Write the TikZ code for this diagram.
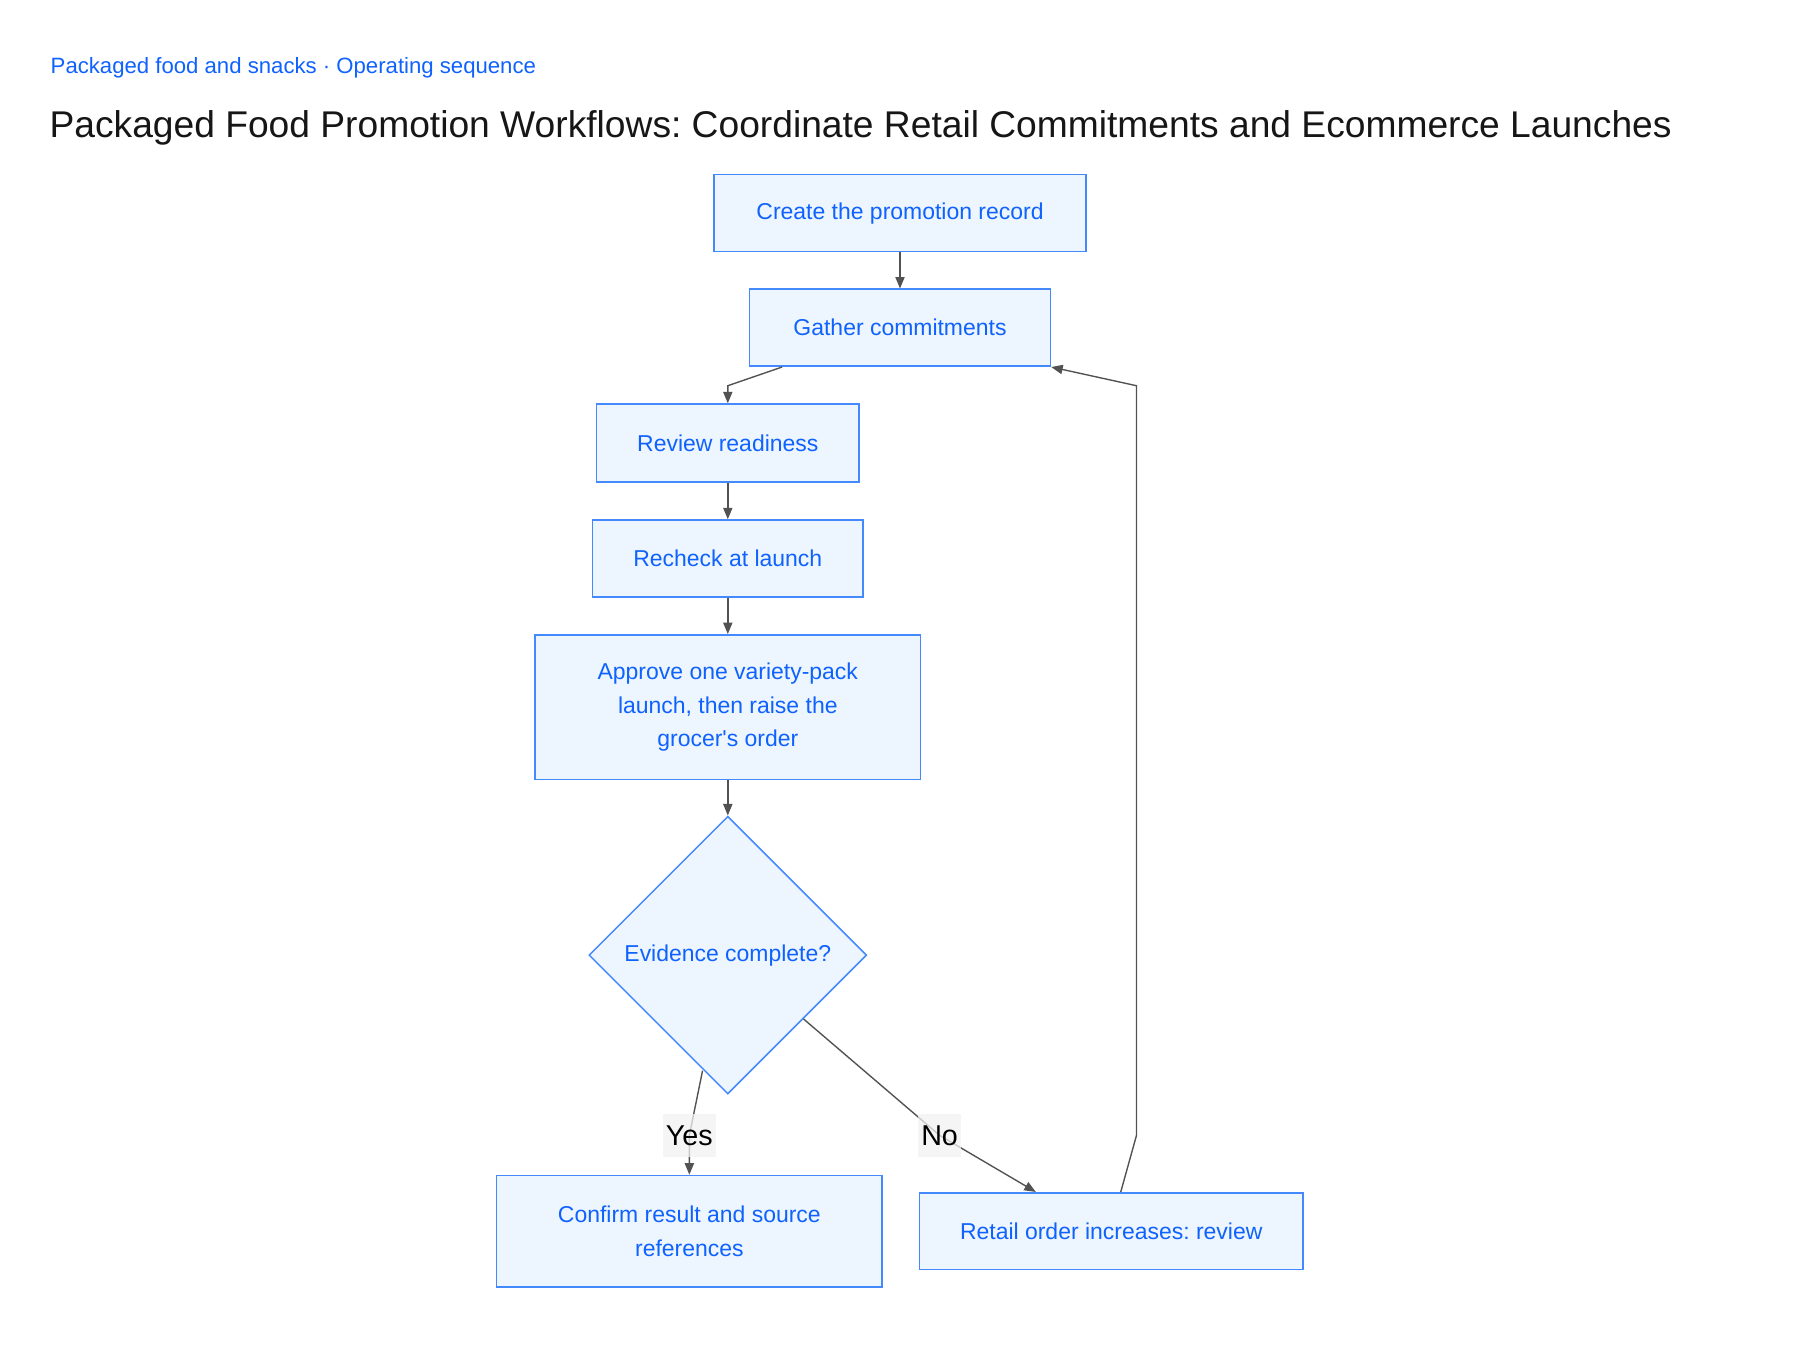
\documentclass[tikz,border=0pt]{standalone}
\usepackage{fontspec}
\setmainfont{Liberation Sans}[Ligatures=TeXOff]
\usetikzlibrary{shapes.geometric,arrows.meta,calc}
\definecolor{ibmblue}{HTML}{0F62FE}
\definecolor{boxline}{HTML}{4589FF}
\definecolor{boxfill}{HTML}{EDF5FF}
\definecolor{edgegray}{HTML}{525252}
\definecolor{titleblack}{HTML}{161616}
\begin{document}
\frenchspacing
\begin{tikzpicture}[x=1pt,y=-1pt,
  stepbox/.style={draw=boxline, fill=boxfill, line width=1.4pt, text=ibmblue,
    font=\fontsize{20}{29}\selectfont, align=center, inner sep=0pt},
  decision/.style={diamond, draw=boxline, fill=boxfill, line width=1.3pt, text=ibmblue,
    font=\fontsize{20}{29}\selectfont, inner sep=0pt, aspect=1,
    minimum width=242pt, minimum height=242pt},
  edge/.style={draw=edgegray, line width=1.2pt, -{Triangle[length=10pt,width=8pt]}},
  elabel/.style={fill=black!5, fill opacity=0.75, text opacity=1, text=black,
    font=\fontsize{25}{30}\selectfont, minimum height=38pt, inner sep=0pt}
]
\fill[white] (0,0) rectangle (1568,1176);
\useasboundingbox (0,0) rectangle (1568,1176);

\node[anchor=base west, inner sep=0pt, text=ibmblue, font=\fontsize{19.3}{24}\selectfont] (sub) at (44,64)
  {Packaged food and snacks · Operating sequence};
\node[anchor=base west, inner sep=0pt, text=titleblack, font=\fontsize{32.4}{38}\selectfont] (title) at (43,119.5)
  {Packaged Food Promotion Workflows: Coordinate Retail Commitments and Ecommerce Launches};

\node[stepbox, minimum width=324pt, minimum height=67pt] (b1) at (784,185.5) {\strut Create the promotion record};
\node[stepbox, minimum width=262pt, minimum height=67pt] (b2) at (784,285.5) {Gather commitments};
\node[stepbox, minimum width=229pt, minimum height=68pt] (b3) at (634,386) {Review readiness};
\node[stepbox, minimum width=236pt, minimum height=67pt] (b4) at (634,486.5) {Recheck at launch};
\node[stepbox, minimum width=336pt, minimum height=126pt] (b5) at (634,616)
  {Approve one variety-pack\\launch, then raise the\\grocer's order};
\node[decision] (dia) at (634,832) {Evidence complete?};
\node[stepbox, minimum width=336pt, minimum height=97pt] (b6) at (600.5,1072.5)
  {Confirm result and source\\references};
\node[stepbox, minimum width=334pt, minimum height=67pt] (b7) at (968,1072.5)
  {Retail order increases: review};

\coordinate (k1) at (634,336);
\coordinate (yesc) at (600.5,989);
\coordinate (noc) at (818.5,989);
\coordinate (k2) at (990,989);
\coordinate (k3) at (990,336);

\draw[edge] (b1.south) -- (b2.north);
\draw[edge] ([xshift=29pt]b2.south west) -- (k1) -- (b3.north);
\draw[edge] (b3.south) -- (b4.north);
\draw[edge] (b4.south) -- (b5.north);
\draw[edge] (b5.south) -- (dia.north);
\draw[edge] ($(dia.south)+(-22,-21)$) -- (yesc) -- (b6.north);
\draw[edge] ($(dia.south)+(66,-66)$) -- (noc) -- ([xshift=102pt]b7.north west);
\draw[edge] ([xshift=176pt]b7.north west) -- (k2) -- (k3) -- (b2.south east);

\node[elabel, minimum width=46pt] (yes) at (yesc) {Yes};
\node[elabel, minimum width=37pt] (no) at (noc) {No};
\end{tikzpicture}
\end{document}
